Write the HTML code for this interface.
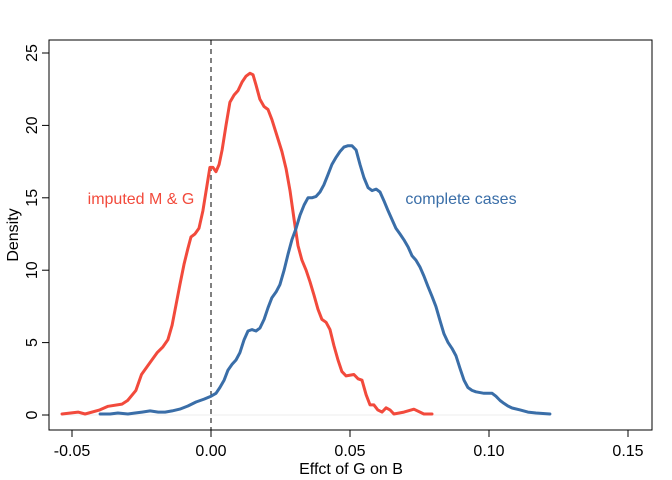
<!DOCTYPE html>
<html><head><meta charset="utf-8"><style>
body{margin:0;background:#fff;}
svg{display:block;font-family:"Liberation Sans",sans-serif;}
</style></head><body>
<svg id="chart" width="672" height="480">
<rect x="49" y="40" width="603" height="390" fill="none" stroke="#000" stroke-width="1"/>
<g id="axes"></g>
<g id="series"></g>
<text x="351" y="474" text-anchor="middle" font-size="16">Effct of G on B</text>
<text transform="translate(18,235) rotate(-90)" text-anchor="middle" font-size="16">Density</text>
<text x="141" y="204" text-anchor="middle" font-size="16" fill="#f24a3c">imputed M &amp; G</text>
<text x="461" y="204" text-anchor="middle" font-size="16" fill="#3a6ea8">complete cases</text>
</svg>
<script>
const xTicks=[-0.05,0,0.05,0.10,0.15];
const xTickLabels=["-0.05","0.00","0.05","0.10","0.15"];
const yTicks=[0,5,10,15,20,25];
const yTickLabels=["0","5","10","15","20","25"];
const redX=[-0.0536,-0.0478,-0.0453,-0.040,-0.037,-0.032,-0.030,-0.027,-0.025,-0.022,-0.0194,-0.0173,-0.0155,-0.014,-0.0126,-0.0112,-0.0097,-0.0083,-0.0072,-0.0058,-0.0043,-0.0029,-0.0014,-0.0004,0.0007,0.0018,0.0029,0.004,0.0054,0.0068,0.0083,0.0097,0.0112,0.0126,0.014,0.0151,0.0162,0.0176,0.0191,0.0205,0.0219,0.0237,0.0255,0.027,0.0284,0.0299,0.0313,0.0327,0.0342,0.0356,0.037,0.0385,0.0399,0.0414,0.0428,0.0442,0.0457,0.0471,0.0486,0.0514,0.0529,0.0543,0.0558,0.0572,0.0586,0.060,0.0615,0.063,0.0644,0.0658,0.0694,0.073,0.0766,0.0795];
const redY=[0.07,0.2,0.07,0.35,0.6,0.75,1.0,1.7,2.8,3.6,4.3,4.7,5.2,6.2,7.6,9.0,10.4,11.5,12.3,12.5,12.9,14.1,15.9,17.1,17.1,16.8,17.3,18.3,20.0,21.6,22.1,22.4,23.0,23.4,23.6,23.5,22.8,21.8,21.3,21.1,20.4,19.3,18.2,17.0,15.5,13.5,11.7,10.7,10.0,9.2,8.3,7.3,6.6,6.4,5.9,4.8,3.8,3.0,2.7,2.8,2.5,2.4,1.4,0.7,0.7,0.35,0.2,0.5,0.35,0.07,0.2,0.4,0.07,0.07];
const blueX=[-0.0399,-0.0363,-0.0335,-0.0299,-0.0273,-0.0248,-0.0219,-0.019,-0.0165,-0.014,-0.0112,-0.0083,-0.0054,-0.0025,0,0.0018,0.0032,0.0047,0.0061,0.0076,0.009,0.0104,0.0119,0.0133,0.0147,0.0162,0.0176,0.0191,0.0205,0.0219,0.0234,0.0248,0.0263,0.0277,0.0291,0.0306,0.032,0.0335,0.0349,0.0363,0.0378,0.0392,0.0406,0.0421,0.0435,0.045,0.0464,0.0478,0.0493,0.0507,0.0522,0.0536,0.055,0.0565,0.0579,0.0594,0.0608,0.0622,0.0637,0.0651,0.0665,0.068,0.0694,0.0709,0.0723,0.0737,0.0752,0.0766,0.078,0.0795,0.0809,0.0824,0.0838,0.0853,0.0867,0.0881,0.0896,0.091,0.0924,0.0939,0.0953,0.0982,0.1011,0.1025,0.104,0.1054,0.1068,0.1083,0.1112,0.114,0.1169,0.1219];
const blueY=[0.07,0.07,0.14,0.07,0.14,0.2,0.28,0.2,0.2,0.28,0.41,0.62,0.9,1.1,1.3,1.5,1.9,2.4,3.1,3.5,3.8,4.3,5.2,5.8,5.9,5.8,6.0,6.6,7.4,8.1,8.5,9.0,10.0,11.1,12.1,12.9,13.8,14.5,15.0,15.0,15.1,15.4,15.9,16.6,17.3,17.8,18.2,18.5,18.6,18.6,18.3,17.3,16.4,15.7,15.5,15.6,15.4,14.8,14.1,13.5,12.9,12.5,12.1,11.6,11.0,10.7,10.2,9.6,8.9,8.2,7.5,6.5,5.6,5.0,4.6,4.1,3.2,2.4,1.9,1.7,1.6,1.5,1.5,1.3,1.0,0.8,0.62,0.48,0.35,0.2,0.14,0.07];

const sx=v=>211+v*2780;
const sy=v=>415-v*14.48;
const NS="http://www.w3.org/2000/svg";
const axes=document.getElementById('axes');
const series=document.getElementById('series');
function mk(tag,attrs,parent){const e=document.createElementNS(NS,tag);for(const k in attrs)e.setAttribute(k,attrs[k]);parent.appendChild(e);return e;}

let xa=mk('line',{x1:sx(xTicks[0]),x2:sx(xTicks[xTicks.length-1]),y1:430,y2:430,stroke:'#000'},axes);


xTicks.forEach((t,i)=>{
  const l=mk('line',{x1:sx(t),x2:sx(t),y1:430,y2:437,stroke:'#000'},axes);
  
  
  const tx=mk('text',{x:sx(t),y:456,'text-anchor':'middle','font-size':16},axes);
  tx.textContent=xTickLabels[i];
  
  
});
let ya=mk('line',{x1:49,x2:49,y1:sy(yTicks[0]),y2:sy(yTicks[yTicks.length-1]),stroke:'#000'},axes);


yTicks.forEach((t,i)=>{
  const l=mk('line',{x1:42,x2:49,y1:sy(t),y2:sy(t),stroke:'#000'},axes);
  
  
  const tx=mk('text',{transform:`translate(37,${sy(t)}) rotate(-90)`,'text-anchor':'middle','font-size':16},axes);
  tx.textContent=yTickLabels[i];
  
  
});
let base=mk('line',{x1:sx(-0.054),x2:sx(0.122),y1:sy(0),y2:sy(0),stroke:'#eeeeee'},axes);


let ref=mk('line',{x1:sx(0),x2:sx(0),y1:40,y2:430,stroke:'#000','stroke-dasharray':'5,4'},axes);



function drawLine(xs,ys,color,name){
  const pts=xs.map((x,i)=>sx(x).toFixed(1)+','+sy(ys[i]).toFixed(1)).join(' ');
  const p=mk('polyline',{points:pts,fill:'none',stroke:color,'stroke-width':3,'stroke-linejoin':'round','stroke-linecap':'round'},series);
  
  
}
drawLine(redX,redY,'#f24a3c','imputed-density-line');
drawLine(blueX,blueY,'#3a6ea8','complete-cases-density-line');
</script>
</body></html>
